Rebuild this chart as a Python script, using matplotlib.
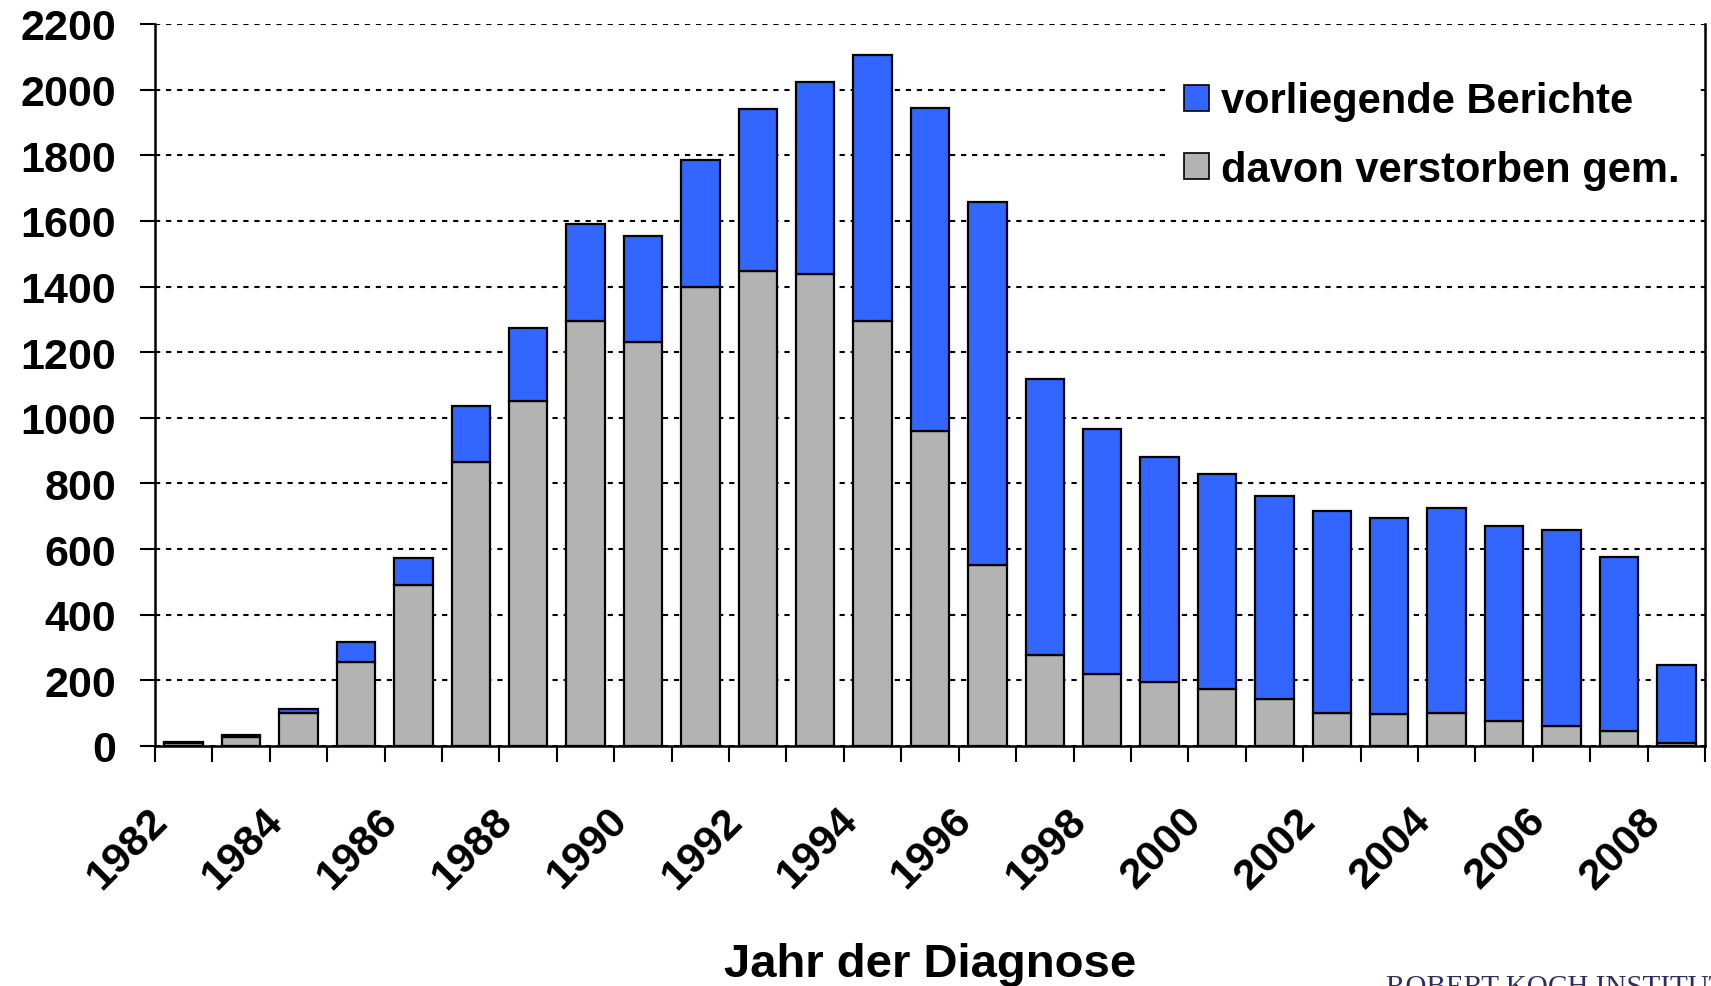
import numpy as np
import matplotlib
matplotlib.use('Agg')
from matplotlib import pyplot as plt
from matplotlib.patches import Patch
from matplotlib.transforms import ScaledTranslation

# -----------------------------
# 数据
# -----------------------------
jahre = list(range(1982, 2009))
berichte = [12, 35, 113, 317, 572, 1037, 1273, 1592, 1555, 1785, 1941, 2024, 2107, 1944,
            1658, 1117, 967, 881, 828, 761, 715, 695, 725, 671, 658, 575, 246]
verstorben = [10, 28, 100, 257, 492, 864, 1050, 1296, 1230, 1399, 1446, 1439, 1296, 960,
              552, 276, 219, 196, 173, 143, 100, 96, 100, 76, 60, 47, 10]
yticks = list(range(0, 2201, 200))
xlabels = [str(j) for j in jahre[::2]]

blau = '#3366FF'
grau = '#B3B3B3'

plt.rcParams['font.family'] = ['Liberation Sans', 'DejaVu Sans']
plt.rcParams['font.weight'] = 'bold'

fig = plt.figure(figsize=(17.11, 9.87), dpi=100)
ax = fig.add_axes([155/1711, 1-747/987, 1550/1711, 722/987])

x = np.arange(len(jahre))
rest = np.array(berichte) - np.array(verstorben)
ax.bar(x, verstorben, width=0.67, color=grau, edgecolor='black', linewidth=1.6, zorder=3)
ax.bar(x, rest, bottom=verstorben, width=0.67, color=blau, edgecolor='black', linewidth=1.6, zorder=3)

ax.set_xlim(-0.5, len(jahre) - 0.5)
ax.set_ylim(0, 2200)
ax.set_yticks(yticks)
ax.set_yticklabels([str(v) for v in yticks], fontsize=31, fontweight='bold')
ax.tick_params(axis='y', length=11, width=1.5, pad=17)

# Beschriftung jede zweite Kategorie, Striche an Kategoriegrenzen
ax.set_xticks(x[::2])
ax.set_xticklabels(xlabels, fontsize=31, fontweight='bold', rotation=45,
                   ha='right', va='center', rotation_mode='anchor')
ax.set_xticks(np.arange(-0.5, len(jahre)), minor=True)
ax.tick_params(axis='x', which='major', length=0, pad=49)
ax.tick_params(axis='x', which='minor', length=11.5, width=1.5)
shift = ScaledTranslation(-22/100, 0, fig.dpi_scale_trans)
for lab in ax.get_xticklabels():
    lab.set_transform(lab.get_transform() + shift)

ax.yaxis.grid(True, color='black', linestyle=(0, (2.5, 2.8)), linewidth=1.5, zorder=0)
ax.set_axisbelow(True)
ax.spines['top'].set_visible(False)
for s in ['left', 'bottom', 'right']:
    ax.spines[s].set_linewidth(1.8)

ax.set_xlabel('Jahr der Diagnose', fontsize=34, fontweight='bold', labelpad=33)

handles = [Patch(facecolor=blau, edgecolor='black', linewidth=1.2),
           Patch(facecolor=grau, edgecolor='black', linewidth=1.2)]
leg = ax.legend(handles, ['vorliegende Berichte', 'davon verstorben gem.'],
                loc='upper right', bbox_to_anchor=(1.0, 0.955), fontsize=30,
                handlelength=0.6, handleheight=0.6, handletextpad=0.3,
                labelspacing=0.68, borderaxespad=0.2, frameon=True,
                facecolor='white', edgecolor='none', framealpha=1, fancybox=False)
for t in leg.get_texts():
    t.set_fontweight('bold')

fig.text(1386/1711, -0.008, 'ROBERT KOCH INSTITUT', fontsize=21, color='#2E2E5E',
         family='Liberation Serif', fontweight='normal', ha='left', va='baseline')

plt.savefig('out.png', dpi=100)
